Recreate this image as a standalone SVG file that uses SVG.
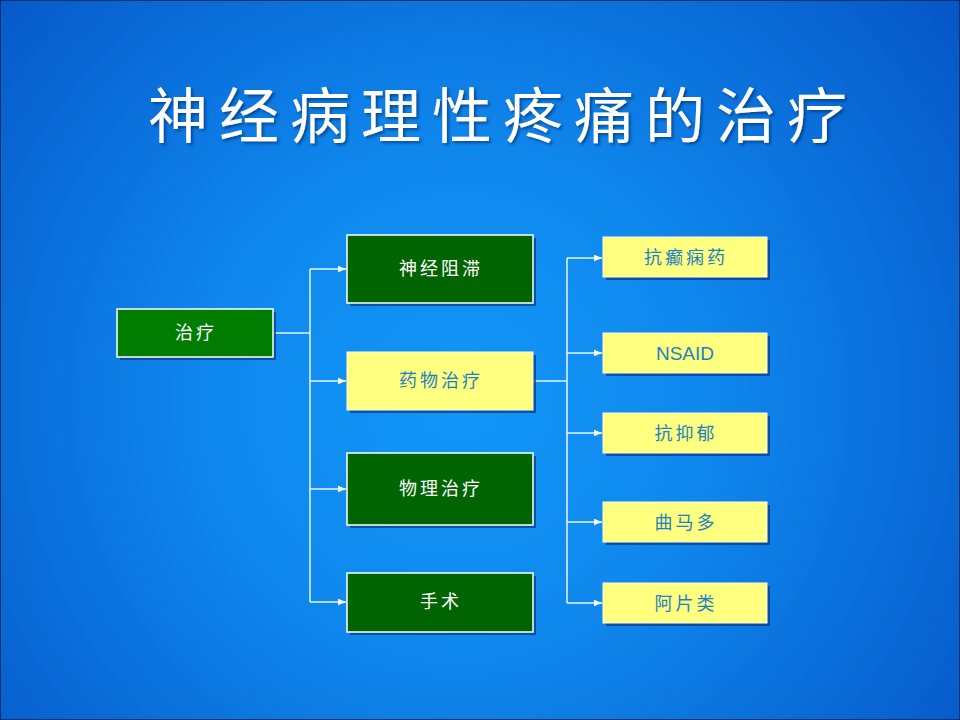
<svg xmlns="http://www.w3.org/2000/svg" width="960" height="720" viewBox="0 0 960 720">
<defs>
<radialGradient id="bg" cx="460" cy="400" r="620" gradientUnits="userSpaceOnUse">
<stop offset="0" stop-color="#1196f7"/>
<stop offset="0.4" stop-color="#0f88ee"/>
<stop offset="1" stop-color="#0658c8"/>
</radialGradient>
<marker id="arr" viewBox="0 0 10 10" refX="10" refY="5" markerWidth="8" markerHeight="8" markerUnits="userSpaceOnUse" orient="auto">
<path d="M0,1 L10,5 L0,9 z" fill="#ffffff"/>
</marker>
<filter id="ts" x="-5%" y="-20%" width="110%" height="140%">
<feDropShadow dx="2" dy="2" stdDeviation="1.5" flood-color="#003070" flood-opacity="0.7"/>
</filter>
</defs>
<style>
.shadow{fill:#0a3d85;opacity:0.75}
.green{fill:#006400;stroke:#ffffff;stroke-width:1.5}
.green2{fill:#007d00;stroke:#ffffff;stroke-width:1.5}
.yellow{fill:#ffff80;stroke:#ffffe0;stroke-width:1}
.wt{fill:#ffffff;font-family:"Noto Sans CJK SC","Noto Sans",sans-serif;font-size:18px;text-anchor:middle;letter-spacing:3px}
.bt{fill:#1e82c0;font-family:"Noto Sans CJK SC","Noto Sans",sans-serif;font-size:18px;text-anchor:middle;letter-spacing:3px}
.bl{fill:#1e82c0;font-family:"Liberation Sans","Noto Sans",sans-serif;font-size:19px;text-anchor:middle}
.conn{stroke:#e8f4ff;stroke-width:1.5;fill:none}
</style>
<rect x="0" y="0" width="960" height="720" fill="url(#bg)"/>
<rect x="0.5" y="0.5" width="959" height="719" fill="none" stroke="#04306a" stroke-width="1"/>
<text x="148" y="138" fill="#ffffff" font-family="Noto Sans CJK SC, sans-serif" font-size="60" letter-spacing="11" filter="url(#ts)">神经病理性疼痛的治疗</text>

<g id="connectors">
<polyline class="conn" points="273,333 310,333"/>
<line class="conn" x1="310" y1="269" x2="310" y2="602"/>
<line class="conn" x1="310" y1="269" x2="346" y2="269" marker-end="url(#arr)"/>
<line class="conn" x1="310" y1="381" x2="346" y2="381" marker-end="url(#arr)"/>
<line class="conn" x1="310" y1="489" x2="346" y2="489" marker-end="url(#arr)"/>
<line class="conn" x1="310" y1="602" x2="346" y2="602" marker-end="url(#arr)"/>
<polyline class="conn" points="533,381 567,381"/>
<line class="conn" x1="567" y1="258" x2="567" y2="603"/>
<line class="conn" x1="567" y1="258" x2="602" y2="258" marker-end="url(#arr)"/>
<line class="conn" x1="567" y1="353" x2="602" y2="353" marker-end="url(#arr)"/>
<line class="conn" x1="567" y1="433" x2="602" y2="433" marker-end="url(#arr)"/>
<line class="conn" x1="567" y1="522" x2="602" y2="522" marker-end="url(#arr)"/>
<line class="conn" x1="567" y1="603" x2="602" y2="603" marker-end="url(#arr)"/>
</g>

<g id="node-zhiliao">
<rect class="shadow" x="120" y="312" width="156" height="48"/>
<rect class="green2" x="117" y="309" width="156" height="48"/>
<text class="wt" x="196" y="339">治疗</text>
</g>
<g id="node-shenjingzuzhi">
<rect class="shadow" x="350" y="238" width="186" height="68"/>
<rect class="green" x="347" y="235" width="186" height="68"/>
<text class="wt" x="441" y="275">神经阻滞</text>
</g>
<g id="node-yaowuzhiliao">
<rect class="shadow" x="350" y="355" width="186" height="58"/>
<rect class="yellow" x="347" y="352" width="186" height="58"/>
<text class="bt" x="441" y="387">药物治疗</text>
</g>
<g id="node-wulizhiliao">
<rect class="shadow" x="350" y="456" width="186" height="72"/>
<rect class="green" x="347" y="453" width="186" height="72"/>
<text class="wt" x="441" y="495">物理治疗</text>
</g>
<g id="node-shoushu">
<rect class="shadow" x="350" y="576" width="186" height="59"/>
<rect class="green" x="347" y="573" width="186" height="59"/>
<text class="wt" x="441" y="608">手术</text>
</g>
<g id="node-kangdianxianyao">
<rect class="shadow" x="606" y="240" width="164" height="40"/>
<rect class="yellow" x="603" y="237" width="164" height="40"/>
<text class="bt" x="686" y="264">抗癫痫药</text>
</g>
<g id="node-nsaid">
<rect class="shadow" x="606" y="336" width="164" height="40"/>
<rect class="yellow" x="603" y="333" width="164" height="40"/>
<text class="bl" x="685" y="360">NSAID</text>
</g>
<g id="node-kangyiyu">
<rect class="shadow" x="606" y="416" width="164" height="40"/>
<rect class="yellow" x="603" y="413" width="164" height="40"/>
<text class="bt" x="686" y="440">抗抑郁</text>
</g>
<g id="node-quma">
<rect class="shadow" x="606" y="505" width="164" height="40"/>
<rect class="yellow" x="603" y="502" width="164" height="40"/>
<text class="bt" x="686" y="529">曲马多</text>
</g>
<g id="node-apian">
<rect class="shadow" x="606" y="586" width="164" height="40"/>
<rect class="yellow" x="603" y="583" width="164" height="40"/>
<text class="bt" x="686" y="610">阿片类</text>
</g>
</svg>
